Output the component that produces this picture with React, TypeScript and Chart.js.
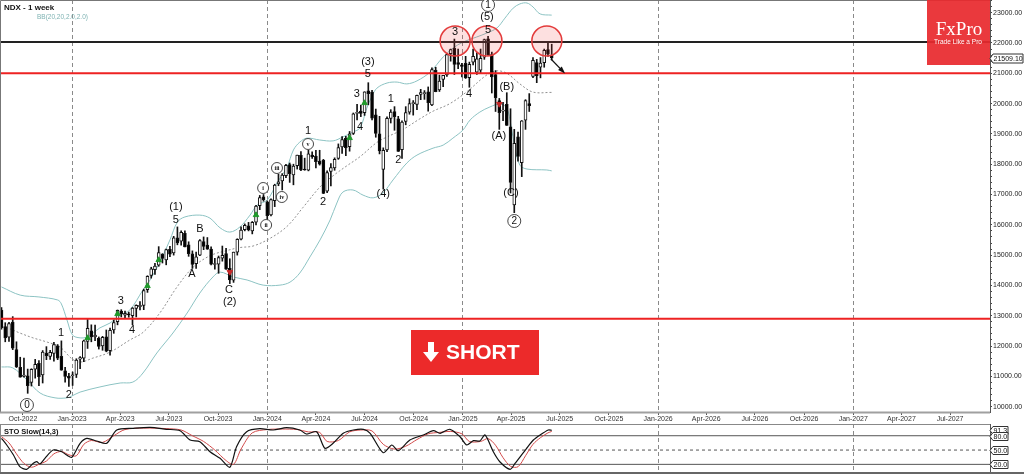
import React, { useEffect, useRef } from "react";
import { Chart, registerables } from "chart.js";
Chart.register(...registerables);

// ---------- DATA ----------
// weekly candles, first candle = week of 22 Aug 2022
const OPEN = [13185,12640,12290,12790,11880,11300,11000,11020,10800,11240,11430,11050,11770,11660,11760,12010,11660,11180,11000,
  11020,11060,11570,11600,12150,12500,12300,12250,12000,12300,11850,12530,12800,13150,13020,13050,13000,13240,13300,13340,13860,14330,14520,14670,15030,14840,15190,15070,15570,15460,15720,15340,15040,14720,15000,15450,15330,15200,14690,14700,14900,15050,14560,14170,15100,15530,15840,15970,15800,16090,16630,16920,
  16760,16330,16800,17350,17450,17620,17990,17650,17950,18290,17820,17800,18300,18270,18100,18130,17110,17760,17880,18190,18570,18850,18580,19020,19680,19750,19700,20420,20380,19630,19000,17830,18470,19510,19740,19500,18480,19410,19720,20000,19970,20300,20330,20390,19960,21100,20450,20800,20950,21650,21820,21350,21280,
  21330,20860,21370,21040,21100,21530,22140,21620,20960,20100,19750,19980,19230,16660,18900,18050,19450,20000,20900,21350,21200,21350,21780,21600];
const HIGH = [13270,12770,12780,12970,12140,11630,11600,11240,11250,11560,11520,11850,11980,11860,12120,12050,12170,11300,11100,
  11140,11580,11650,12200,12880,12700,12690,12300,12320,12530,12590,12860,13190,13200,13150,13120,13270,13360,13470,13880,14320,14600,14730,15280,15050,15200,15290,15620,15930,15800,15800,15440,15140,15100,15510,15600,15580,15270,14890,14970,15300,15220,14880,15100,15540,15930,16030,16080,16110,16640,16970,17000,
  16790,16860,17340,17670,17690,18000,18040,18000,18300,18420,18200,18460,18410,18460,18460,18160,17780,18020,18210,18670,18910,18920,19080,19690,19980,19950,20390,20690,20440,19820,19580,18540,19560,19800,19900,19580,19430,19900,20160,20100,20280,20470,20430,20550,21180,21200,20940,20930,21650,21800,22130,21800,21330,
  21560,21370,21800,21680,21800,22130,22220,21700,21090,20170,20040,20360,19830,19150,19060,19440,20130,20330,21520,21460,21520,21800,22050,21960];
const LOW = [12555,12140,12150,11880,11290,10970,10970,10440,10680,10940,10690,10780,11550,11560,11500,11550,11200,10810,10670,
  10700,10960,11250,11480,11920,12140,12180,11900,11860,11810,11700,12420,12700,12960,12900,12950,12700,12960,13190,13200,13770,14240,14360,14630,14740,14680,14950,15000,15340,15330,15270,14960,14560,14560,14980,15180,15190,14680,14540,14400,14800,14530,14060,14100,15000,15500,15800,15800,15700,16000,16500,16780,
  16180,16290,16600,17290,17150,17560,17400,17320,17840,17790,17800,17780,18190,17880,17970,17030,17060,17280,17800,18160,18360,18280,18430,18980,19460,19570,19610,19960,19460,18890,18340,17180,18410,19360,19120,18420,18190,19300,19650,19620,19800,20130,20140,19750,19930,20390,20400,20560,20900,21400,20960,21150,20880,
  20830,20540,21280,20960,21000,21460,21600,20350,19740,19150,19440,19280,17050,16400,18100,17590,19150,19740,20860,20690,20850,21200,21560,21440];
const CLOSE = [12605,12270,12740,11930,11310,10970,11040,10690,11230,11400,10990,11800,11680,11790,12050,11600,11200,11000,10940,
  11040,11540,11620,12170,12580,12300,12360,11990,12290,11830,12520,12770,13180,13060,13080,13030,13250,13340,13340,13830,14300,14550,14640,15080,14890,15180,15030,15570,15400,15750,15270,15050,14690,14940,15480,15290,15200,14700,14720,14920,14990,14540,14180,15100,15520,15830,15980,15830,16080,16620,16900,16830,
  16300,16830,17310,17420,17640,17960,17690,17940,18300,17810,17810,18340,18250,18080,18000,17040,17720,17890,18160,18550,18810,18540,19000,19660,19700,19680,20390,20330,19520,19020,18440,18460,19510,19720,19570,18420,19390,19700,20000,20000,20270,20360,20350,20030,21120,20390,20740,20930,21620,21780,21290,21290,21230,
  20850,21300,21560,21480,21490,22110,21610,20880,20200,19700,19750,19280,17400,18690,18260,19430,20100,19930,21430,20920,21340,21760,21630,21509.1];

// Bollinger bands (week index, price)
const BB_UP_IDX = [0,5,10,15,16,17.5,19,21,23,24.5,26.3,29,31.7,34.3,37.8,39.7,42.3,45,47,49,53,55.7,58.4,61,63.7,66.4,68.3,71,73.6,76.3,78,79.7,81.6,85,88.6,91.2,93.9,95.8,97.6,99,100.3,103,105.7,108.3,111,114.5,118,120.6,123.3,127,129.7,132.4,134.5,136.7,138.5,140.4,142,143.9,147];
const BB_UP = [13950,13680,13620,13520,13390,12860,12360,12270,12300,12430,12600,12760,13020,13190,13850,14180,14770,15500,16090,16260,16320,16220,15900,15760,15930,16320,16650,16820,17380,17910,18470,18730,18860,18800,18770,18900,19060,19200,19850,20250,20510,20680,20710,20650,20750,21040,21540,21830,22030,22200,22330,22500,22820,23150,23290,23320,23190,22960,22920];
const BB_MID_IDX = [0,1.5,4.9,8.4,12.2,15.6,18.8,21,24.4,29,34.3,37.8,42.3,46.9,51.2,55.7,60.2,63.7,67.2,71.7,76.3,80.6,85.1,88.6,92.3,95.8,100.3,103,107.3,111.8,115.3,119.8,124.4,129.7,132.4,135,138.5,142,147];
const BB_MID = [12630,12600,12430,12270,12130,11970,11580,11470,11600,11800,12200,12450,13090,13950,14600,14980,15150,15250,15300,15550,15950,16580,17250,17620,17950,18250,18720,18900,19150,19500,19750,20000,20400,20950,21080,21000,20650,20380,20370];
const BB_LOW_IDX = [0,3,6.8,10.3,14.3,17.5,18.8,21,26.3,31.7,35.1,37.8,41.5,45.8,49.6,53,56.5,58.4,61.9,65.6,69.9,74.4,77.1,79.7,82.4,85.1,87.8,89.6,91.2,93.9,96.6,99.3,101.9,104.6,108.3,111,115.3,118,120.6,123.3,125.2,127.8,130.5,133.2,135,136.1,137.2,138.5,140.4,145.7,147];
const BB_LOW = [11310,11280,10880,10450,10290,10290,10350,10480,10650,10780,10810,11110,11770,12430,13090,13750,14280,14440,14280,14180,14010,14010,14110,14410,14940,15500,16160,16720,17080,17150,16980,16890,17050,17480,18040,18300,18530,18630,18860,19130,19460,19720,19890,19990,19850,19290,18530,17970,17840,17810,17780];

// horizontal levels
const RESISTANCE = 22030;
const PIVOT = 21000;
const SUPPORT = 12900;
const LAST_PRICE = 21509.1;

// signal markers (week index, price)
const UP_SIG_IDX = [23,31,39,42,68,93,97];
const UP_SIG_PRICE = [12265,13057,13981,14839,16324,18865,20020];
const DOWN_SIG_IDX = [61,133];
const DOWN_SIG_PRICE = [14443,19987];

// Elliott wave labels
const WAVE_TEXT = ["0","1","2","3","4","(1)","5","B","A","C","(2)","i","ii","iii","iv","v","1","2","3","4","(3)","5","1","2","(4)","3","4","(5)","1","5","(B)","(A)","(C)","2"];
const WAVE_IDX = [6.8,15.9,18,31.9,34.9,46.6,46.6,53,50.9,60.8,61,69.9,70.7,73.6,74.9,81.9,81.9,85.9,94.9,95.8,97.9,97.9,104,106,102,121.2,124.9,129.7,130,130,135,132.9,136.1,137];
const WAVE_PRICE = [10054,12430,10384,13486,12529,16588,16159,15862,14377,13849,13453,17215,15994,17875,16918,18667,19096,16753,20317,19228,21373,20977,20152,18139,17017,22363,20317,22858,23254,22429,20548,18931,17050,16126];
const WAVE_CIRCLED = [1,0,0,0,0,0,0,0,0,0,0,2,2,2,2,2,0,0,0,0,0,0,0,0,0,0,0,0,1,0,0,0,0,1];

// highlighted tops (week index, price)
const TOP_IDX = [121.2,129.7,145.7];
const TOP_PRICE = [22066,22066,22066];
// projected move arrow
const ARROW_IDX = [146.8,150.2];
const ARROW_PRICE = [21472,21040];

// axes
const X_TICK_LABELS = ["Oct-2022","Jan-2023","Apr-2023","Jul-2023","Oct-2023","Jan-2024","Apr-2024","Jul-2024","Oct-2024","Jan-2025","Apr-2025","Jul-2025","Oct-2025","Jan-2026","Apr-2026","Jul-2026","Oct-2026","Jan-2027","Apr-2027","Jul-2027"];
const Y_LABELS = [10000,11000,12000,13000,14000,15000,16000,17000,18000,19000,20000,21000,22000,23000];
const X_MIN = -0.4;
const X_MAX = 264.1;
const Y_MIN = 9823;
const Y_MAX = 23419;

// stochastic (week index, value)
const STO_K_IDX = [0,1.4,3.2,4.9,6.7,8.5,9.4,10.3,11.6,13.8,16.1,17.4,18.8,21,22.8,25.4,28.1,30.8,35.2,39.7,44.1,47.7,50.4,53,55.7,58.4,61,62.8,65.5,69,72.6,76.2,79.7,81.5,84.2,86.4,88.6,91.3,94,96.7,98.5,102,104.3,106,109.1,112.7,115.4,117.2,119.8,122.5,124.3,126.1,127.8,129.2,131.4,133.2,135.9,137.2,140.3,142.1,143.9,146.1,147];
const STO_K = [74.6,60.6,39.6,15.1,9.6,22.2,25.6,20.8,32.7,50.1,46.5,39.6,34.8,64.2,74.6,69,64.2,92,95.6,97.7,93.5,90.6,71,67.5,46.5,32.7,13.8,57,88.5,94.8,92,96.9,92,83.6,88.5,53.7,64.2,85.1,92,93.5,85.1,44.4,60.6,48.6,71,81.6,90.6,85.1,93.5,78,60.6,69.6,69,81.6,46.5,25,9.6,22,53.7,71,81.6,92,91.3];
const STO_D_IDX = [0,2,4,6,8,10,12,14,16,18,20,22,24,27,30,33,38,44,48,51,54,57,60,62,64,67,71,75,79,82,85,87,90,93,96,99,102,105,108,111,114,117,120,123,125,128,130,132,134,136,138,140,142,144,146,147];
const STO_D = [78,65,42,22,14,20,27,42,47,40,38,62,70,66,80,93,96,95,92,80,68,50,28,20,52,86,93,94,93,88,87,68,70,88,92,90,62,52,58,72,84,87,89,84,68,68,74,60,34,16,15,38,62,76,86,89];
const STO_LEVELS = [80, 50, 20];
const STO_AXIS_MARKS = [91.3, 80, 50, 20];

// ---------- HELPERS ----------
const FONT = "'Liberation Sans', Arial, sans-serif";
const START = Date.UTC(2022, 7, 22);
const MONTH_NUM: Record<string, number> = { Jan: 0, Apr: 3, Jul: 6, Oct: 9 };
const labelToWeek = (s: string) => {
  const [m, yr] = s.split("-");
  return (Date.UTC(+yr, MONTH_NUM[m], 1) - START) / (7 * 86400000);
};
const X_TICK_POS = X_TICK_LABELS.map(labelToWeek);
const pts = (xs: number[], ys: number[]) => xs.map((x, k) => ({ x, y: ys[k] }));
const hline = (v: number) => [{ x: X_MIN, y: v }, { x: X_MAX, y: v }];
const isJan = (i: number) => (X_TICK_LABELS[i] || "").startsWith("Jan");

function xScaleOpts(showLabels: boolean) {
  return {
    type: "linear",
    min: X_MIN,
    max: X_MAX,
    offset: false,
    afterBuildTicks: (s: any) => { s.ticks = X_TICK_POS.map((v) => ({ value: v })); },
    afterFit: (s: any) => {
      s.height = showLabels ? 12 : 0;
      s.paddingLeft = 0; s.paddingRight = 0; s.paddingTop = 0; s.paddingBottom = 0;
    },
    ticks: {
      display: showLabels,
      autoSkip: false,
      maxRotation: 0,
      padding: 0,
      color: "#333",
      font: { family: FONT, size: 7 },
      callback: (_v: any, i: number) => X_TICK_LABELS[i],
    },
    grid: {
      offset: false,
      drawOnChartArea: true,
      drawTicks: showLabels,
      tickLength: 3,
      tickColor: "#555",
      color: (c: any) => (isJan(c.index) ? "#8a8a8a" : "rgba(0,0,0,0)"),
      lineWidth: 1,
    },
    border: { display: false, dash: [4, 3] },
  };
}

function rightYAxis(min: number, max: number, build: (s: any) => void, cb: (v: number) => string, showLabels: boolean) {
  return {
    type: "linear",
    position: "right",
    min,
    max,
    afterBuildTicks: build,
    afterFit: (s: any) => {
      s.width = 34;
      s.paddingLeft = 0; s.paddingRight = 0; s.paddingTop = 0; s.paddingBottom = 0;
    },
    ticks: {
      display: showLabels,
      autoSkip: false,
      padding: 1,
      color: "#222",
      font: { family: FONT, size: 7 },
      callback: cb,
    },
    grid: { drawOnChartArea: false, tickLength: 2, tickColor: "#444" },
    border: { display: true, color: "#555", width: 1 },
  };
}

// ---------- PLUGINS ----------
const mainOverlay = {
  id: "mainOverlay",
  afterDraw(chart: any) {
    const { ctx, chartArea: a } = chart;
    const xs = chart.scales.x;
    const ys = chart.scales.y;
    ctx.save();

    // frame
    ctx.strokeStyle = "#777";
    ctx.lineWidth = 1;
    ctx.beginPath();
    ctx.moveTo(0.5, a.bottom); ctx.lineTo(0.5, 0.5); ctx.lineTo(a.right, 0.5);
    ctx.stroke();
    ctx.strokeStyle = "#a0a0a0";
    ctx.lineWidth = 2;
    ctx.beginPath(); ctx.moveTo(0, a.bottom + 0.5); ctx.lineTo(a.right, a.bottom + 0.5); ctx.stroke();

    // header
    ctx.fillStyle = "#111";
    ctx.font = `bold 8px ${FONT}`;
    ctx.textBaseline = "middle";
    ctx.textAlign = "left";
    ctx.fillText("NDX - 1 week", 4, 7.5);
    ctx.fillStyle = "#7fb3b3";
    ctx.font = `6.5px ${FONT}`;
    ctx.fillText("BB(20,20,2.0,2.0)", 37, 17);

    // highlighted tops
    TOP_IDX.forEach((ix, k) => {
      const cx = xs.getPixelForValue(ix);
      const cy = ys.getPixelForValue(TOP_PRICE[k]);
      ctx.beginPath();
      ctx.arc(cx, cy, 15, 0, Math.PI * 2);
      ctx.fillStyle = "rgba(240,60,60,0.16)";
      ctx.fill();
      ctx.strokeStyle = "#e33b3b";
      ctx.lineWidth = 1.5;
      ctx.stroke();
    });

    // arrow
    const ax1 = xs.getPixelForValue(ARROW_IDX[0]);
    const ay1 = ys.getPixelForValue(ARROW_PRICE[0]);
    const ax2 = xs.getPixelForValue(ARROW_IDX[1]);
    const ay2 = ys.getPixelForValue(ARROW_PRICE[1]);
    ctx.strokeStyle = "#111";
    ctx.fillStyle = "#111";
    ctx.lineWidth = 1.2;
    ctx.beginPath(); ctx.moveTo(ax1, ay1); ctx.lineTo(ax2, ay2); ctx.stroke();
    const ang = Math.atan2(ay2 - ay1, ax2 - ax1);
    ctx.beginPath();
    ctx.moveTo(ax2 + 2 * Math.cos(ang), ay2 + 2 * Math.sin(ang));
    ctx.lineTo(ax2 - 6 * Math.cos(ang - 0.45), ay2 - 6 * Math.sin(ang - 0.45));
    ctx.lineTo(ax2 - 6 * Math.cos(ang + 0.45), ay2 - 6 * Math.sin(ang + 0.45));
    ctx.closePath();
    ctx.fill();

    // wave labels
    ctx.textAlign = "center";
    ctx.textBaseline = "middle";
    WAVE_TEXT.forEach((t, k) => {
      const px = xs.getPixelForValue(WAVE_IDX[k]);
      const py = ys.getPixelForValue(WAVE_PRICE[k]);
      const c = WAVE_CIRCLED[k];
      if (c === 1) {
        ctx.beginPath(); ctx.arc(px, py, 6.5, 0, Math.PI * 2);
        ctx.fillStyle = "#fff"; ctx.fill();
        ctx.strokeStyle = "#333"; ctx.lineWidth = 0.9; ctx.stroke();
        ctx.fillStyle = "#111"; ctx.font = `10px ${FONT}`;
        ctx.fillText(t, px, py + 0.5);
      } else if (c === 2) {
        ctx.beginPath(); ctx.arc(px, py, 5.5, 0, Math.PI * 2);
        ctx.fillStyle = "#fff"; ctx.fill();
        ctx.strokeStyle = "#333"; ctx.lineWidth = 0.9; ctx.stroke();
        ctx.fillStyle = "#111"; ctx.font = `bold 6px 'Liberation Serif', serif`;
        ctx.fillText(t, px, py + 0.5);
      } else {
        ctx.fillStyle = "#111"; ctx.font = `11px ${FONT}`;
        ctx.fillText(t, px, py);
      }
    });

    // SHORT button
    ctx.fillStyle = "#ec2a2a";
    ctx.fillRect(411, 330, 128, 45);
    ctx.fillStyle = "#fff";
    ctx.beginPath();
    ctx.moveTo(428, 342); ctx.lineTo(434, 342); ctx.lineTo(434, 352); ctx.lineTo(439, 352);
    ctx.lineTo(431, 362); ctx.lineTo(423, 352); ctx.lineTo(428, 352); ctx.closePath();
    ctx.fill();
    ctx.font = `bold 21px ${FONT}`;
    ctx.textAlign = "left";
    ctx.fillText("SHORT", 446, 353.5);

    // logo
    ctx.globalAlpha = 0.93;
    ctx.fillStyle = "#e82a2e";
    ctx.fillRect(927, 0, 63, 65);
    ctx.globalAlpha = 1;
    ctx.fillStyle = "#fff";
    ctx.textAlign = "center";
    ctx.font = `19px 'Liberation Serif', 'Times New Roman', serif`;
    ctx.fillText("FxPro", 959, 30);
    ctx.font = `6.5px ${FONT}`;
    ctx.fillText("Trade Like a Pro", 958, 42);

    // last price marker
    const ly = Math.round(ys.getPixelForValue(LAST_PRICE)) + 0.5;
    ctx.beginPath();
    ctx.moveTo(990, ly); ctx.lineTo(993, ly - 4.5); ctx.lineTo(1023, ly - 4.5);
    ctx.lineTo(1023, ly + 4.5); ctx.lineTo(993, ly + 4.5); ctx.closePath();
    ctx.fillStyle = "#fff"; ctx.fill();
    ctx.strokeStyle = "#333"; ctx.lineWidth = 1; ctx.stroke();
    ctx.fillStyle = "#111";
    ctx.font = `7px ${FONT}`;
    ctx.textAlign = "left";
    ctx.fillText(LAST_PRICE.toFixed(2), 993.5, ly + 0.5);

    ctx.restore();
  },
};

const stoOverlay = {
  id: "stoOverlay",
  afterDraw(chart: any) {
    const { ctx, chartArea: a } = chart;
    const ys = chart.scales.y;
    ctx.save();
    ctx.strokeStyle = "#888";
    ctx.lineWidth = 1;
    ctx.beginPath(); ctx.moveTo(0, 0.5); ctx.lineTo(a.right, 0.5); ctx.stroke();
    ctx.beginPath(); ctx.moveTo(0.5, 0); ctx.lineTo(0.5, 50); ctx.stroke();
    ctx.strokeStyle = "#666";
    ctx.lineWidth = 2;
    ctx.beginPath(); ctx.moveTo(0, 49); ctx.lineTo(1024, 49); ctx.stroke();

    ctx.fillStyle = "#111";
    ctx.font = `bold 7.5px ${FONT}`;
    ctx.textAlign = "left";
    ctx.textBaseline = "middle";
    ctx.fillText("STO Slow(14,3)", 4, 8);

    ctx.font = `7px ${FONT}`;
    STO_AXIS_MARKS.forEach((v) => {
      const y = Math.round(ys.getPixelForValue(v)) + 0.5;
      ctx.beginPath();
      ctx.moveTo(990, y); ctx.lineTo(993, y - 4); ctx.lineTo(1008, y - 4);
      ctx.lineTo(1008, y + 4); ctx.lineTo(993, y + 4); ctx.closePath();
      ctx.fillStyle = "#fff"; ctx.fill();
      ctx.strokeStyle = "#333"; ctx.lineWidth = 1; ctx.stroke();
      ctx.fillStyle = "#111";
      ctx.fillText(v.toFixed(1), 993.5, y + 0.5);
    });
    ctx.restore();
  },
};

// ---------- CONFIGS ----------
function mainConfig(): any {
  const idx = CLOSE.map((_, i) => i);
  return {
    type: "bar",
    data: {
      datasets: [
        { type: "line", data: hline(RESISTANCE), borderColor: "#222", borderWidth: 2, pointRadius: 0, order: 0 },
        { type: "line", data: hline(PIVOT), borderColor: "#ee2222", borderWidth: 2, pointRadius: 0, order: 0 },
        { type: "line", data: hline(SUPPORT), borderColor: "#ee2222", borderWidth: 2, pointRadius: 0, order: 0 },
        { type: "line", data: pts(UP_SIG_IDX, UP_SIG_PRICE), showLine: false, pointStyle: "triangle", pointRadius: 3.2, backgroundColor: "#1f9a2a", borderColor: "#1f9a2a", borderWidth: 1, order: -1 },
        { type: "line", data: pts(DOWN_SIG_IDX, DOWN_SIG_PRICE), showLine: false, pointStyle: "triangle", pointRotation: 180, pointRadius: 3.2, backgroundColor: "#c62828", borderColor: "#c62828", borderWidth: 1, order: -1 },
        {
          type: "bar",
          data: idx.map((i) => ({ x: i, y: [OPEN[i], CLOSE[i]] })),
          backgroundColor: (c: any) => (CLOSE[c.dataIndex] >= OPEN[c.dataIndex] ? "#ffffff" : "#000000"),
          borderColor: "#111",
          borderWidth: 1,
          borderSkipped: false,
          barThickness: 3,
          minBarLength: 1,
          grouped: false,
          order: 1,
        },
        {
          type: "bar",
          data: idx.map((i) => ({ x: i, y: [LOW[i], HIGH[i]] })),
          backgroundColor: "#111",
          barThickness: 1,
          grouped: false,
          order: 2,
        },
        { type: "line", data: pts(BB_UP_IDX, BB_UP), borderColor: "#8cc3c3", borderWidth: 1, pointRadius: 0, tension: 0.35, order: 5 },
        { type: "line", data: pts(BB_LOW_IDX, BB_LOW), borderColor: "#8cc3c3", borderWidth: 1, pointRadius: 0, tension: 0.35, order: 5 },
        { type: "line", data: pts(BB_MID_IDX, BB_MID), borderColor: "#8f8f8f", borderWidth: 1, borderDash: [2, 2], pointRadius: 0, tension: 0.35, order: 5 },
      ],
    },
    options: {
      responsive: false,
      animation: false,
      devicePixelRatio: 1,
      events: [],
      layout: { padding: 0, autoPadding: false },
      plugins: { legend: { display: false }, tooltip: { enabled: false } },
      scales: {
        x: xScaleOpts(true),
        y: rightYAxis(
          Y_MIN,
          Y_MAX,
          (s: any) => {
            const t: any[] = [];
            for (let v = 10000; v <= 23400; v += 200) t.push({ value: v });
            s.ticks = t;
          },
          (v: number) => (Y_LABELS.includes(Math.round(v)) ? Math.round(v).toFixed(2) : ""),
          true
        ),
      },
    },
    plugins: [mainOverlay],
  };
}

function stoConfig(): any {
  return {
    type: "line",
    data: {
      datasets: [
        { data: pts(STO_K_IDX, STO_K), borderColor: "#111", borderWidth: 1.2, pointRadius: 0, tension: 0.25, order: 0 },
        { data: pts(STO_D_IDX, STO_D), borderColor: "#d24b4b", borderWidth: 1, pointRadius: 0, tension: 0.3, order: 1 },
        ...STO_LEVELS.map((v) => ({
          data: hline(v),
          borderColor: "#555",
          borderWidth: 1,
          borderDash: v === 50 ? [3, 3] : [],
          pointRadius: 0,
          order: 2,
        })),
      ],
    },
    options: {
      responsive: false,
      animation: false,
      devicePixelRatio: 1,
      events: [],
      layout: { padding: 0, autoPadding: false },
      plugins: { legend: { display: false }, tooltip: { enabled: false } },
      scales: {
        x: xScaleOpts(false),
        y: rightYAxis(
          -0.2,
          104.6,
          (s: any) => { s.ticks = STO_LEVELS.map((v) => ({ value: v })); },
          (v: number) => v.toFixed(1),
          false
        ),
      },
    },
    plugins: [stoOverlay],
  };
}

export default function App() {
  const mainRef = useRef<HTMLCanvasElement>(null);
  const stoRef = useRef<HTMLCanvasElement>(null);
  useEffect(() => {
    document.body.style.margin = "0";
    const main = new Chart(mainRef.current as HTMLCanvasElement, mainConfig());
    const sto = new Chart(stoRef.current as HTMLCanvasElement, stoConfig());
    return () => {
      main.destroy();
      sto.destroy();
    };
  }, []);
  return (
    <div style={{ position: "relative", width: 1024, height: 474, background: "#fff", overflow: "hidden" }}>
      <canvas ref={mainRef} width={1024} height={424} style={{ position: "absolute", left: 0, top: 0, width: 1024, height: 424 }} />
      <canvas ref={stoRef} width={1024} height={50} style={{ position: "absolute", left: 0, top: 424, width: 1024, height: 50 }} />
    </div>
  );
}
